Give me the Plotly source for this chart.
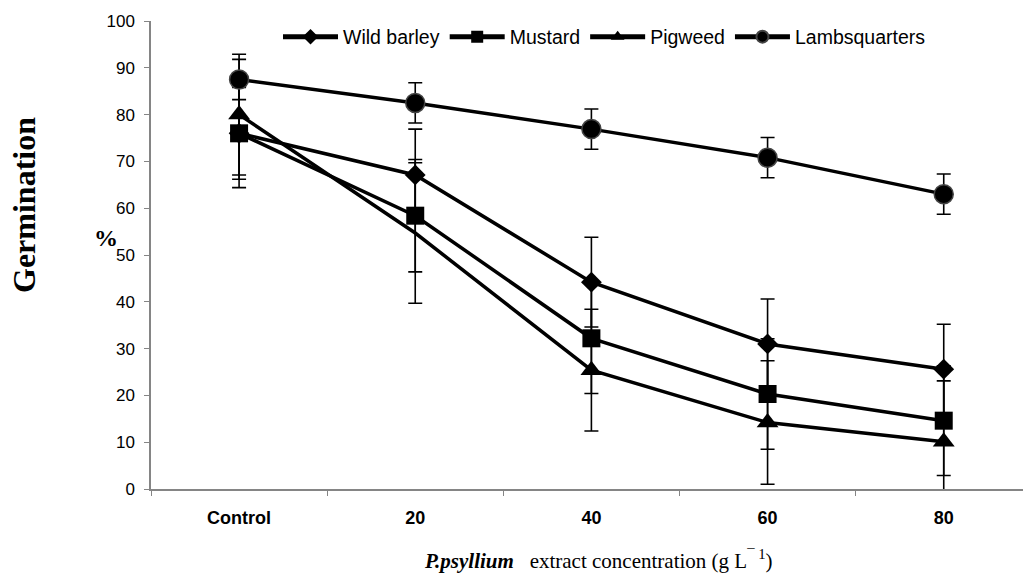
import plotly.graph_objects as go

categories = ["Control", "20", "40", "60", "80"]

wild_barley = [76.0, 67.1, 44.2, 31.0, 25.6]
wild_barley_err = [9.8, 9.8, 9.6, 9.6, 9.6]

mustard = [76.0, 58.4, 32.2, 20.3, 14.6]
mustard_err = [11.6, 12.0, 11.8, 11.8, 11.7]

pigweed = [80.0, 54.7, 25.4, 14.2, 10.1]
pigweed_err = [12.9, 15.0, 13.0, 13.2, 13.0]

lambsquarters = [87.5, 82.5, 76.9, 70.8, 63.0]
lambsquarters_err = [4.3, 4.3, 4.3, 4.3, 4.3]

y_ticks = [0, 10, 20, 30, 40, 50, 60, 70, 80, 90, 100]

# the pigweed marker at 20 is not drawn in the original figure
pigweed_marker_colors = ["black", "rgba(0,0,0,0)", "black", "black", "black"]

series = [
    ("Wild barley", wild_barley, wild_barley_err, "diamond", 16, "black", "black", 0),
    ("Mustard", mustard, mustard_err, "square", 18, "black", "black", 0),
    ("Pigweed", pigweed, pigweed_err, "triangle-up", 19, pigweed_marker_colors, "black", 0),
    ("Lambsquarters", lambsquarters, lambsquarters_err, "circle", 19, "black", "#444444", 1.5),
]

fig = go.Figure()
for name, vals, errs, sym, size, mc, lc, lw in series:
    fig.add_trace(go.Scatter(
        x=categories, y=vals, name=name, mode="lines+markers",
        line=dict(color="black", width=3.5),
        marker=dict(symbol=sym, size=size, color=mc,
                    line=dict(color=lc, width=lw)),
        error_y=dict(type="data", array=errs, visible=True,
                     color="black", thickness=1.6, width=7),
    ))

fig.update_layout(
    width=1023, height=576,
    margin=dict(l=151, r=0, t=21, b=87),
    paper_bgcolor="white", plot_bgcolor="white",
    font=dict(family="Liberation Sans, Arial", color="black"),
    showlegend=True,
    legend=dict(orientation="h", x=(278 - 151) / 872, xanchor="left",
                y=(489 - 37) / 468, yanchor="middle",
                bgcolor="rgba(0,0,0,0)", font=dict(size=19.5),
                itemsizing="constant", itemwidth=55),
    xaxis=dict(type="category", range=[-0.5, 4.45],
               showline=True, linecolor="#858585", linewidth=1.5,
               ticks="outside", tickson="boundaries", ticklen=5,
               tickcolor="#858585", showgrid=False, zeroline=False,
               tickfont=dict(family="Liberation Sans, Arial", size=18,
                             color="black", weight="bold"),
               ticklabelstandoff=12),
    yaxis=dict(range=[0, 100], tickvals=y_ticks,
               showline=True, linecolor="#858585", linewidth=1.5,
               ticks="outside", ticklen=5, tickcolor="#858585",
               showgrid=False, zeroline=False,
               tickfont=dict(family="Liberation Sans, Arial", size=17, color="black"),
               ticklabelstandoff=6),
)

fig.add_annotation(
    xref="paper", yref="paper", x=(598 - 151) / 872, y=-(559 - 489) / 468,
    xanchor="center", yanchor="middle", showarrow=False,
    text="<b><i>P.psyllium</i></b>&nbsp;&nbsp; extract concentration (g L<sup>¯ 1</sup>)",
    font=dict(family="Liberation Serif, Times New Roman", size=21, color="black"),
)
fig.add_annotation(
    xref="paper", yref="paper", x=-(151 - 24) / 872, y=(489 - 205) / 468,
    xanchor="center", yanchor="middle", showarrow=False, textangle=-90,
    text="<b>Germination</b>",
    font=dict(family="Liberation Serif, Times New Roman", size=32, color="black"),
)
fig.add_annotation(
    xref="paper", yref="paper", x=-(151 - 106) / 872, y=(489 - 238) / 468,
    xanchor="center", yanchor="middle", showarrow=False,
    text="<b>%</b>",
    font=dict(family="Liberation Serif, Times New Roman", size=24, color="black"),
)

fig.write_html("out.html", config={"displayModeBar": False},
               post_script="document.body.style.margin='0';document.body.style.overflow='hidden';")
